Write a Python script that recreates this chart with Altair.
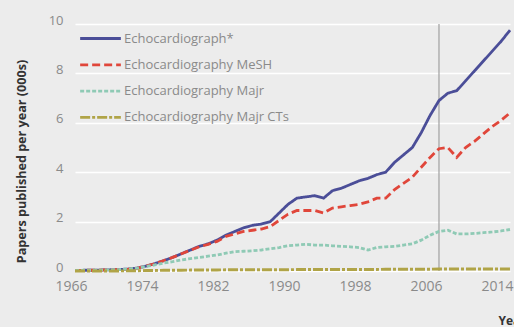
import altair as alt
import pandas as pd

years = list(range(1966, 2016))
series_names = ["Echocardiograph*", "Echocardiography MeSH", "Echocardiography Majr", "Echocardiography Majr CTs"]
echo_all = [0.02, 0.03, 0.03, 0.04, 0.05, 0.06, 0.08, 0.12, 0.2, 0.3,
            0.42, 0.55, 0.7, 0.85, 1.0, 1.1, 1.25, 1.45, 1.6, 1.75,
            1.85, 1.9, 2.0, 2.35, 2.7, 2.95, 3.0, 3.05, 2.95, 3.25,
            3.35, 3.5, 3.65, 3.75, 3.9, 4.0, 4.4, 4.7, 5.0, 5.6,
            6.3, 6.9, 7.2, 7.3, 7.7, 8.1, 8.5, 8.9, 9.3, 9.75]
echo_mesh = [0.02, 0.03, 0.03, 0.04, 0.05, 0.06, 0.08, 0.12, 0.2, 0.3,
             0.42, 0.55, 0.7, 0.84, 0.98, 1.08, 1.2, 1.4, 1.5, 1.6,
             1.65, 1.7, 1.8, 2.05, 2.3, 2.45, 2.45, 2.45, 2.35, 2.55,
             2.6, 2.65, 2.7, 2.8, 2.95, 2.95, 3.3, 3.55, 3.8, 4.2,
             4.6, 4.95, 5.0, 4.6, 5.0, 5.25, 5.55, 5.85, 6.1, 6.4]
echo_majr = [0.02, 0.03, 0.03, 0.04, 0.05, 0.06, 0.08, 0.12, 0.18, 0.25,
             0.32, 0.38, 0.45, 0.5, 0.55, 0.6, 0.65, 0.72, 0.78, 0.8,
             0.82, 0.85, 0.9, 0.95, 1.02, 1.05, 1.08, 1.05, 1.05, 1.02,
             1.0, 0.98, 0.95, 0.85, 0.95, 0.98, 1.0, 1.05, 1.1, 1.25,
             1.45, 1.6, 1.65, 1.5, 1.5, 1.52, 1.55, 1.58, 1.62, 1.68]
echo_majr_cts = [0.0, 0.0, 0.0, 0.0, 0.0, 0.0, 0.01, 0.01, 0.02, 0.02,
                 0.03, 0.03, 0.03, 0.04, 0.04, 0.04, 0.04, 0.05, 0.05, 0.05,
                 0.05, 0.05, 0.05, 0.05, 0.05, 0.06, 0.06, 0.06, 0.06, 0.06,
                 0.06, 0.06, 0.06, 0.06, 0.06, 0.07, 0.07, 0.07, 0.07, 0.07,
                 0.07, 0.08, 0.08, 0.08, 0.08, 0.08, 0.08, 0.08, 0.08, 0.08]
marker_year = [2007]
y_ticks = [0, 2, 4, 6, 8, 10]
x_ticks = [1966, 1974, 1982, 1990, 1998, 2006, 2014]

rows = []
for name, vals in zip(series_names, [echo_all, echo_mesh, echo_majr, echo_majr_cts]):
    for yr, v in zip(years, vals):
        rows.append({"year": yr, "value": v, "series": name})
df = pd.DataFrame(rows)

colors = ["#4b4e98", "#e0463a", "#8fcab5", "#b0a447"]
dashes = [[1, 0], [8, 4], [4, 2], [10, 2, 3, 2]]
widths = [2.8, 2.8, 2.2, 2.0]

legend_cfg = dict(title=None, orient="none", legendX=17, legendY=6,
                  symbolType="M-3,0H3", symbolSize=184,
                  symbolStrokeWidth=2.6, labelOffset=15, labelLimit=300,
                  labelFontSize=13, labelColor="#8a8a8a",
                  labelFont="Open Sans", rowPadding=10.3)

lines = alt.Chart(df).mark_line().encode(
    x=alt.X("year:Q", scale=alt.Scale(domain=[1966, 2015], nice=False, zero=False),
            axis=alt.Axis(values=x_ticks, format="d", title="Year", grid=False,
                          domain=False, ticks=False, labelPadding=8, labelFlush=False,
                          labelOffset=-4,
                          labelFontSize=14, labelColor="#8a8a8a", labelFont="Open Sans",
                          titleFont="Open Sans", titleFontSize=12, titleFontWeight="bold",
                          titleColor="#333", titleAnchor="end", titleAlign="left",
                          titleX=423, titleY=44)),
    y=alt.Y("value:Q", scale=alt.Scale(domain=[0, 10], nice=False),
            axis=alt.Axis(values=y_ticks, title="Papers published per year (000s)",
                          grid=True, gridColor="#ffffff", gridWidth=1.5,
                          domain=False, ticks=False, labelPadding=12, labelOffset=-4,
                          labelFontSize=13, labelColor="#8a8a8a", labelFont="Open Sans",
                          titleFont="Open Sans", titleFontSize=12.6, titleFontWeight="bold",
                          titleColor="#333", titleX=-47, titleY=137)),
    color=alt.Color("series:N", sort=series_names,
                    scale=alt.Scale(domain=series_names, range=colors),
                    legend=alt.Legend(**legend_cfg)),
    strokeDash=alt.StrokeDash("series:N", sort=series_names,
                              scale=alt.Scale(domain=series_names, range=dashes),
                              legend=alt.Legend(**legend_cfg)),
    strokeWidth=alt.StrokeWidth("series:N", sort=series_names,
                                scale=alt.Scale(domain=series_names, range=widths),
                                legend=None),
    order=alt.Order("series:N"),
)

rule = alt.Chart(pd.DataFrame({"year": marker_year})).mark_rule(
    color="#a0a0a0", strokeWidth=1.2).encode(x="year:Q")

chart = alt.layer(rule, lines).properties(
    width=435, height=247,
    background="#ececec",
    padding={"left": 75, "top": 24, "right": 4, "bottom": 56},
    autosize=alt.AutoSizeParams(type="none"),
).configure_view(stroke=None, fill="#ececec")

chart.save("out.html", embed_options={"renderer": "svg", "actions": False})
